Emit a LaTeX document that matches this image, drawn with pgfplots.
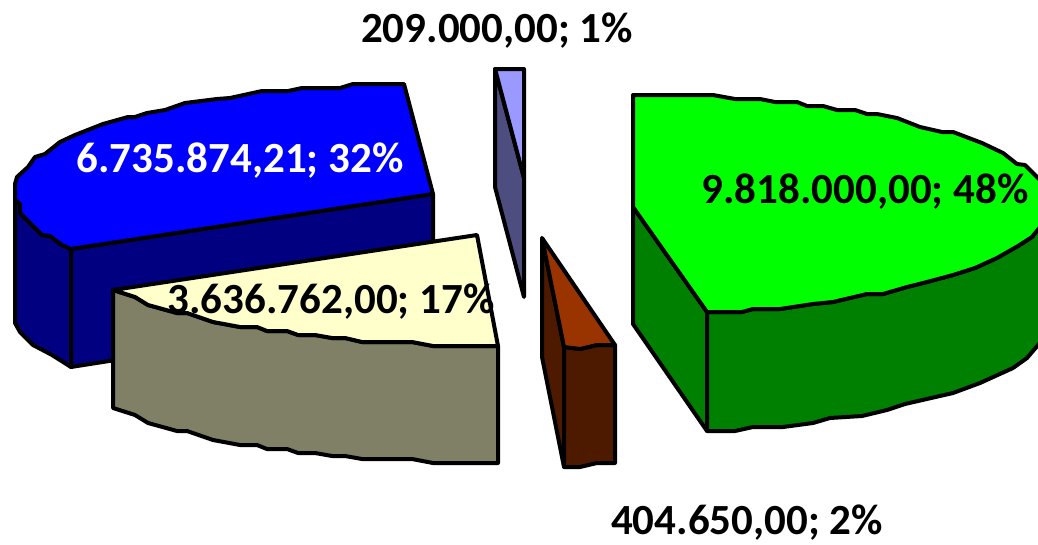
\documentclass[border=0pt]{standalone}
\usepackage{fontspec}
\setmainfont{Carlito}
\usepackage{pgfplots}
\pgfplotsset{compat=1.18}

\definecolor{blueTop}{HTML}{0000FF}
\definecolor{blueSide}{HTML}{000080}
\definecolor{yellowTop}{HTML}{FFFFCC}
\definecolor{yellowSide}{HTML}{808066}
\definecolor{lilacTop}{HTML}{9999FF}
\definecolor{lilacSide}{HTML}{4D4D80}
\definecolor{brownTop}{HTML}{993300}
\definecolor{brownSide}{HTML}{4D1A00}
\definecolor{greenTop}{HTML}{00FF00}
\definecolor{greenSide}{HTML}{008000}

\pgfplotsset{slice/.style={draw=black,line width=4pt,line join=round,fill=#1,mark=none}}
\tikzset{lab/.style={font=\fontsize{43}{43}\selectfont\bfseries}}

\begin{document}
\begin{tikzpicture}
\begin{axis}[
    scale only axis,
    width=1038pt,
    height=544pt,
    xmin=0, xmax=1038,
    ymin=0, ymax=544,
    y dir=reverse,
    hide axis,
    clip=true
]
% 6.735.874,21 -- blue
\addplot[slice=blueSide] coordinates {
    (15,184) (15,323) (20,332) (33,345) (52,355) (71,367) (71,249) (62,245)
    (50,236) (42,235) (20,213) (20,204) (15,200)
} -- cycle;
\addplot[slice=blueSide] coordinates {
    (71,249) (433,194) (433,310) (71,367)
} -- cycle;
\addplot[slice=blueTop] coordinates {
    (433,194) (404,84) (353,84) (340,88) (302,88) (288,91) (262,91) (230,98)
    (217,99) (185,103) (165,110) (147,113) (135,117) (128,117) (103,124) (75,135)
    (60,142) (45,154) (35,157) (28,167) (17,177) (15,184) (15,200) (20,204)
    (20,213) (42,235) (50,236) (62,245) (71,249)
} -- cycle;
% 3.636.762,00 -- yellow
\addplot[slice=yellowSide] coordinates {
    (113,290) (135,297) (148,305) (177,313) (187,313) (213,322) (240,327) (257,327)
    (267,331) (287,331) (298,335) (315,335) (332,338) (345,338) (362,342) (412,342)
    (433,346) (498,346) (498,463) (433,463) (412,459) (362,459) (345,456) (332,456)
    (315,453) (298,453) (287,449) (267,449) (257,445) (240,445) (213,440) (187,431)
    (177,431) (148,423) (135,415) (113,408)
} -- cycle;
\addplot[slice=yellowTop] coordinates {
    (498,346) (477,235) (113,290) (135,297) (148,305) (177,313) (187,313) (213,322)
    (240,327) (257,327) (267,331) (287,331) (298,335) (315,335) (332,338) (345,338)
    (362,342) (412,342) (433,346)
} -- cycle;
% 209.000,00 -- lilac
\addplot[slice=lilacSide] coordinates {
    (495,69) (524,178) (524,297) (495,187)
} -- cycle;
\addplot[slice=lilacTop] coordinates {
    (495,69) (524,69) (524,178)
} -- cycle;
% 404.650,00 -- brown
\addplot[slice=brownSide] coordinates {
    (542,238) (564,347) (564,467) (542,357)
} -- cycle;
\addplot[slice=brownSide] coordinates {
    (564,347) (580,349) (597,345) (615,345) (615,463) (597,463) (580,467) (564,467)
} -- cycle;
\addplot[slice=brownTop] coordinates {
    (542,238) (615,345) (597,345) (580,349) (564,347)
} -- cycle;
% 9.818.000,00 -- green
\addplot[slice=greenSide] coordinates {
    (633,207) (707,312) (707,431) (633,324)
} -- cycle;
\addplot[slice=greenSide] coordinates {
    (707,312) (742,312) (753,309) (780,309) (813,304) (833,302) (867,294) (883,294)
    (907,287) (927,282) (953,275) (975,268) (997,258) (1018,246) (1032,237) (1044,222)
    (1044,338) (1027,358) (1013,368) (980,383) (953,393) (905,404) (887,410) (862,416)
    (830,418) (813,423) (783,427) (753,427) (735,431) (707,431)
} -- cycle;
\addplot[slice=greenTop] coordinates {
    (633,95) (713,95) (735,99) (760,99) (775,102) (797,102) (807,106) (823,106)
    (837,110) (855,110) (867,114) (877,114) (897,118) (920,127) (942,132) (953,132)
    (982,143) (1003,153) (1017,164) (1025,165) (1044,184) (1044,222) (1032,237) (1018,246)
    (997,258) (975,268) (953,275) (927,282) (907,287) (883,294) (867,294) (833,302)
    (813,304) (780,309) (753,309) (742,312) (707,312) (633,207)
} -- cycle;
% data labels
\node[lab,text=white] at (axis cs:240,161) {6.735.874,21; 32\%};
\node[lab] at (axis cs:331,302) {3.636.762,00; 17\%};
\node[lab] at (axis cs:865,192) {9.818.000,00; 48\%};
\node[lab] at (axis cs:497,31) {209.000,00; 1\%};
\node[lab] at (axis cs:747,523) {404.650,00; 2\%};
\end{axis}
\pgfresetboundingbox
\path[use as bounding box] (0,0) rectangle (1038pt,544pt);
\end{tikzpicture}
\end{document}
